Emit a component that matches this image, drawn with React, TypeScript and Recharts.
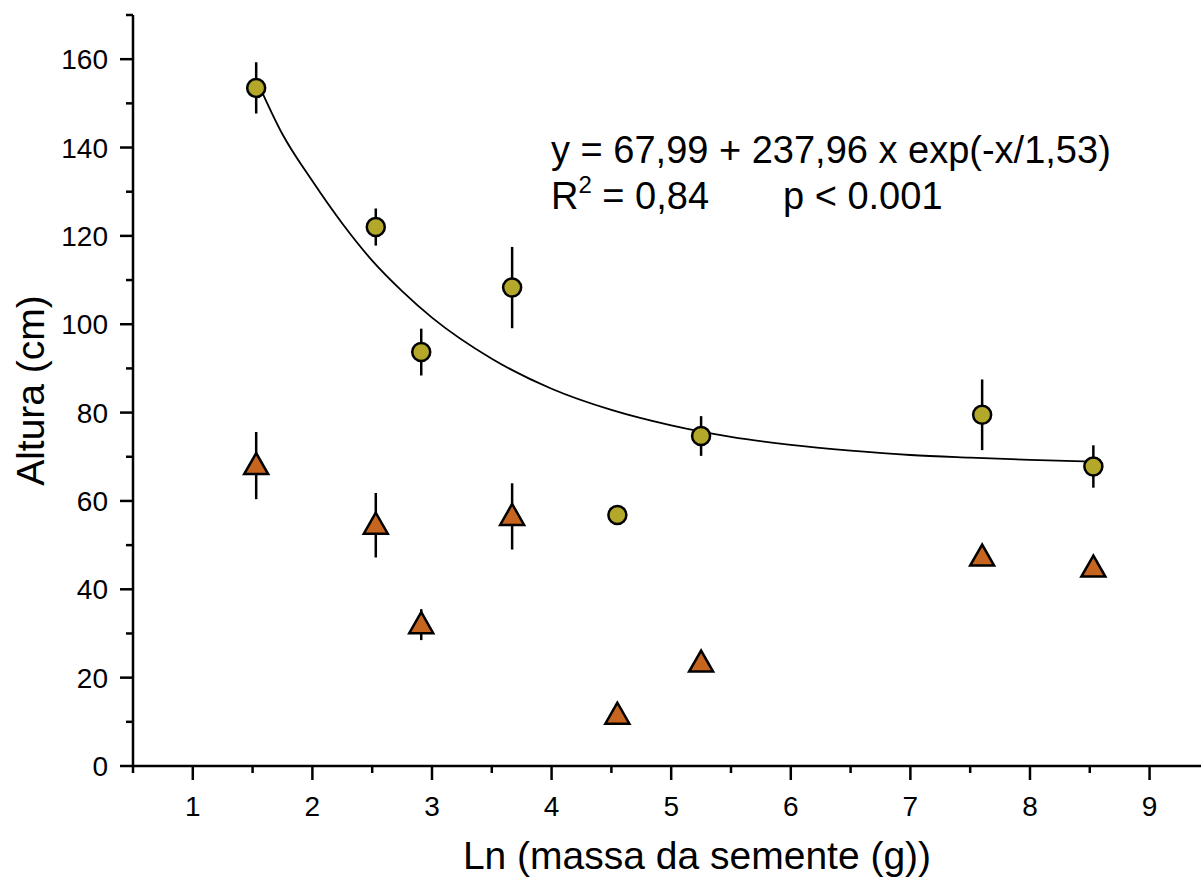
import React from 'react';
import { ComposedChart, Scatter, Line, XAxis, YAxis, ErrorBar } from 'recharts';

// Ln(seed mass) per species
const lnMass = [1.53, 2.53, 2.91, 3.67, 4.55, 5.25, 7.6, 8.53];
// circles
const alturaA = [153.5, 122, 93.7, 108.3, 56.8, 74.7, 79.5, 67.8];
const erroA = [5.8, 4.2, 5.3, 9.2, 0, 4.5, 8, 4.8];
// triangles
const alturaB = [68, 54.5, 32, 56.5, 11.5, 23.3, 47.3, 44.8];
const erroB = [7.6, 7.3, 3.5, 7.5, 1.5, 1, 1.5, 2];

// fitted curve
const fitX = [1.53, 1.75, 2, 2.25, 2.5, 2.75, 3, 3.5, 4, 4.5, 5, 5.5, 6, 6.5, 7, 7.5, 8, 8.53];
const fitY = [155.5, 143, 132.4, 122.8, 114.4, 107.5, 101.5, 92.2, 85.4, 80.6, 77.1, 74.5, 72.7, 71.4, 70.4, 69.8, 69.3, 68.9];

const xTicks = [0.5, 1, 1.5, 2, 2.5, 3, 3.5, 4, 4.5, 5, 5.5, 6, 6.5, 7, 7.5, 8, 8.5, 9];
const yTicks = [0, 10, 20, 30, 40, 50, 60, 70, 80, 90, 100, 110, 120, 130, 140, 150, 160, 170];

const dataA = lnMass.map((x, i) => ({ x, y: alturaA[i], err: erroA[i] }));
const dataB = lnMass.map((x, i) => ({ x, y: alturaB[i], err: erroB[i] }));
const fitData = fitX.map((x, i) => ({ x, y: fitY[i] }));

const FONT = '"Liberation Sans", Arial, sans-serif';

const XTick = (props: any) => {
  const { x, y, payload } = props;
  const major = Number.isInteger(payload.value);
  return (
    <g>
      <line x1={x} x2={x} y1={y} y2={y + (major ? 14 : 7)} stroke="#000" strokeWidth={2.5} />
      {major && (
        <text x={x} y={y + 50} textAnchor="middle" fontSize={28} fontFamily={FONT} fill="#000">
          {payload.value}
        </text>
      )}
    </g>
  );
};

const YTick = (props: any) => {
  const { x, y, payload } = props;
  const major = payload.value % 20 === 0;
  return (
    <g>
      <line x1={x} x2={x - (major ? 13 : 7)} y1={y} y2={y} stroke="#000" strokeWidth={2.5} />
      {major && (
        <text x={x - 25} y={y + 10} textAnchor="end" fontSize={28} fontFamily={FONT} fill="#000">
          {payload.value}
        </text>
      )}
    </g>
  );
};

const Circle = (props: any) => (
  <circle cx={props.cx} cy={props.cy} r={9} fill="#b3a82a" stroke="#000" strokeWidth={2.5} />
);

const Triangle = (props: any) => {
  const { cx, cy } = props;
  const pts = `${cx},${cy - 12.5} ${cx - 12},${cy + 8.5} ${cx + 12},${cy + 8.5}`;
  return <polygon points={pts} fill="#c5651f" stroke="#000" strokeWidth={2.5} strokeLinejoin="miter" />;
};

export default function App() {
  return (
    <div style={{ position: 'absolute', left: 0, top: 0, width: 1201, height: 881, background: '#fff' }}>
      <ComposedChart width={1201} height={881} margin={{ top: 15, right: 0, bottom: 0, left: 0 }}>
        <XAxis
          type="number"
          dataKey="x"
          domain={[0.5, 9.43]}
          ticks={xTicks}
          interval={0}
          allowDataOverflow
          height={115}
          tickLine={false}
          tickSize={0}
          tickMargin={0}
          tick={<XTick />}
          axisLine={{ stroke: '#000', strokeWidth: 2.5 }}
          label={{
            value: 'Ln (massa da semente (g))',
            position: 'insideBottom',
            offset: 12,
            dx: 30,
            style: { fontSize: 39, fontFamily: FONT, fill: '#000' },
          }}
        />
        <YAxis
          type="number"
          dataKey="y"
          domain={[0, 170]}
          ticks={yTicks}
          interval={0}
          allowDataOverflow
          width={133}
          tickLine={false}
          tickSize={0}
          tickMargin={0}
          tick={<YTick />}
          axisLine={{ stroke: '#000', strokeWidth: 2.5 }}
          label={{
            value: 'Altura (cm)',
            angle: -90,
            position: 'insideLeft',
            offset: 30,
            style: { fontSize: 39, fontFamily: FONT, fill: '#000', textAnchor: 'middle' },
          }}
        />
        <Line
          data={fitData}
          dataKey="y"
          type="monotone"
          stroke="#000"
          strokeWidth={1.8}
          dot={false}
          activeDot={false}
          isAnimationActive={false}
        />
        <Scatter data={dataA} dataKey="y" shape={<Circle />} isAnimationActive={false}>
          <ErrorBar dataKey="err" direction="y" width={0} stroke="#000" strokeWidth={2.5} isAnimationActive={false} />
        </Scatter>
        <Scatter data={dataB} dataKey="y" shape={<Triangle />} isAnimationActive={false}>
          <ErrorBar dataKey="err" direction="y" width={0} stroke="#000" strokeWidth={2.5} isAnimationActive={false} />
        </Scatter>
      </ComposedChart>
      <div
        style={{
          position: 'absolute',
          left: 551,
          top: 127,
          fontFamily: FONT,
          fontSize: 38,
          lineHeight: '46px',
          color: '#000',
          whiteSpace: 'pre',
        }}
      >
        <div>y = 67,99 + 237,96 x exp(-x/1,53)</div>
        <div>
          R<sup style={{ fontSize: 24, verticalAlign: 'top', lineHeight: '24px' }}>2</sup> = 0,84{'       '}p &lt; 0.001
        </div>
      </div>
    </div>
  );
}
